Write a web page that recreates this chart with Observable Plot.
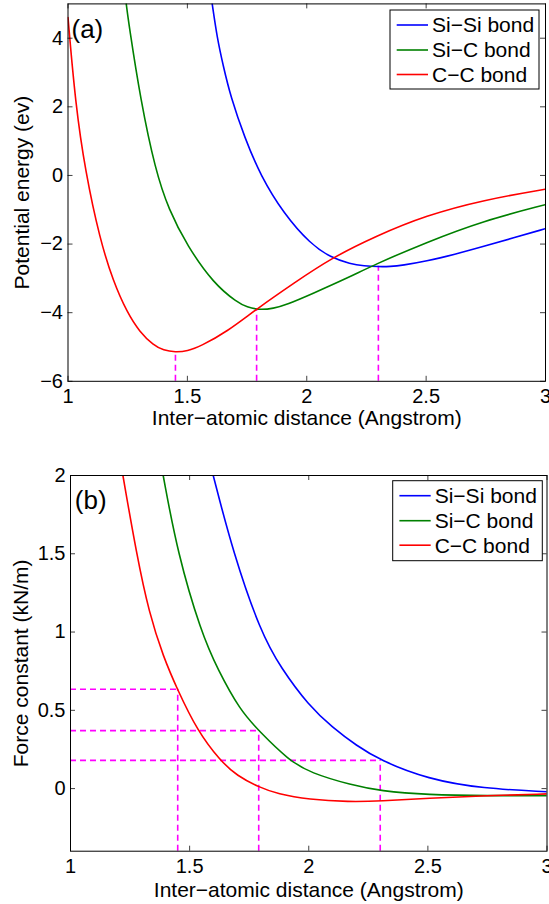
<!DOCTYPE html>
<html><head><meta charset="utf-8">
<script src="https://cdn.jsdelivr.net/npm/d3@7"></script>
<script src="https://cdn.jsdelivr.net/npm/@observablehq/plot@0.6"></script>
<style>body{margin:0;background:#fff} #chart{width:549px;height:904px;line-height:0}</style>
</head><body><div id="chart"></div>
<script>
// ---------- data ----------
const seriesNames = ["Si\u2212Si bond", "Si\u2212C bond", "C\u2212C bond"];
const seriesColors = ["#0000ff", "#008000", "#ff0000"];

// (a) potential energy (eV) vs distance (Angstrom)
const potSiSiX = [1.604, 1.625, 1.65, 1.681, 1.74, 1.806, 1.904, 2.016, 2.10, 2.183, 2.24, 2.30, 2.35, 2.40, 2.50, 2.62, 2.74, 2.87, 3.00];
const potSiSiY = [5.0, 4.0, 3.2, 2.3, 1.1, 0.0, -1.12, -2.0, -2.39, -2.58, -2.635, -2.66, -2.655, -2.62, -2.50, -2.30, -2.07, -1.81, -1.55];
const potSiCX = [1.244, 1.255, 1.304, 1.366, 1.422, 1.499, 1.611, 1.709, 1.75, 1.80, 1.86, 1.918, 2.016, 2.183, 2.274, 2.50, 2.74, 3.00];
const potSiCY = [5.0, 4.4, 2.2, 0.15, -1.0, -2.05, -3.16, -3.70, -3.84, -3.92, -3.88, -3.76, -3.47, -2.95, -2.63, -1.95, -1.32, -0.85];
const potCCX = [1.00, 1.031, 1.073, 1.133, 1.19, 1.248, 1.30, 1.358, 1.40, 1.45, 1.50, 1.555, 1.667, 1.79, 1.95, 2.10, 2.295, 2.497, 2.742, 3.00];
const potCCY = [4.6, 2.1, 0.1, -1.85, -3.1, -4.0, -4.56, -4.95, -5.10, -5.15, -5.12, -4.98, -4.55, -3.89, -3.12, -2.42, -1.75, -1.17, -0.71, -0.40];

// (b) force constant (kN/m) vs distance (Angstrom)
const forceSiSiX = [1.599, 1.684, 1.798, 1.883, 2.00, 2.10, 2.20, 2.30, 2.50, 2.73, 3.00];
const forceSiSiY = [2.0, 1.5, 1.0, 0.77, 0.53, 0.39, 0.275, 0.18, 0.06, 0.0, -0.02];
const forceSiCX = [1.389, 1.45, 1.548, 1.618, 1.712, 1.79, 1.917, 2.007, 2.18, 2.30, 2.50, 2.75, 3.00];
const forceSiCY = [2.0, 1.5, 1.0, 0.76, 0.5, 0.37, 0.18, 0.10, 0.022, -0.015, -0.04, -0.046, -0.045];
const forceCCX = [1.22, 1.277, 1.33, 1.39, 1.448, 1.532, 1.627, 1.70, 1.79, 1.87, 2.00, 2.17, 2.30, 2.50, 2.75, 3.00];
const forceCCY = [2.0, 1.5, 1.12, 0.84, 0.635, 0.37, 0.18, 0.08, 0.01, -0.035, -0.07, -0.085, -0.08, -0.062, -0.045, -0.034];

// equilibrium markers: C-C, Si-C, Si-Si
const eqDist = [1.45, 1.79, 2.30];
const eqEnergy = [-5.15, -3.89, -2.65];
const eqForce = [0.635, 0.37, 0.18];

// ticks
const xTicks = [1, 1.5, 2, 2.5, 3];
const xTickLabels = ["1", "1.5", "2", "2.5", "3"];
const potYTicks = [-6, -4, -2, 0, 2, 4];
const potYTickLabels = ["\u22126", "\u22124", "\u22122", "0", "2", "4"];
const forceYTicks = [0, 0.5, 1, 1.5, 2];
const forceYTickLabels = ["0", "0.5", "1", "1.5", "2"];

const xTitle = "Inter\u2212atomic distance (Angstrom)";
const potTitle = "Potential energy (ev)";
const forceTitle = "Force constant (kN/m)";

// ---------- drawing ----------
const FONT = "'Liberation Sans', Arial, Helvetica, sans-serif";
const eqRows = eqDist.map((d, i) => ({d, e: eqEnergy[i], f: eqForce[i]}));

function rowsOf(xs, ys, name) { return xs.map((x, i) => ({x, y: ys[i], name})); }

function makePanel(cfg) {
  const plotW = cfg.width - cfg.marginLeft - cfg.marginRight;
  const plotH = cfg.height - cfg.marginTop - cfg.marginBottom;
  const tickStyle = {stroke: "black", strokeWidth: 0.75};
  const fmt = (ticks, labels) => d => labels[ticks.indexOf(d)];
  const marks = [
    ...cfg.guides,
    ...cfg.series.map((s, i) => Plot.line(s, {x: "x", y: "y", stroke: seriesColors[i], strokeWidth: 1.6, curve: "basis", clip: true})),
    Plot.tickX(xTicks, {x: d => d, insetTop: plotH - 5, ...tickStyle}),
    Plot.tickX(xTicks, {x: d => d, insetBottom: plotH - 5, ...tickStyle}),
    Plot.tickY(cfg.yTicks, {y: d => d, insetRight: plotW - 5, ...tickStyle}),
    Plot.tickY(cfg.yTicks, {y: d => d, insetLeft: plotW - 5, ...tickStyle}),
    Plot.frame({stroke: "black", strokeWidth: 1}),
    Plot.axisX({ticks: xTicks, tickFormat: fmt(xTicks, xTickLabels), tickSize: 0, tickPadding: cfg.xPad, fontSize: 20}),
    Plot.axisY({ticks: cfg.yTicks, tickFormat: fmt(cfg.yTicks, cfg.yTickLabels), tickSize: 0, tickPadding: 5, fontSize: 20}),
    Plot.text([xTitle], {text: d => d, frameAnchor: "bottom", dy: cfg.xTitleDy, textAnchor: "middle", lineAnchor: "top", fontSize: 21}),
    Plot.text([cfg.yTitle], {text: d => d, frameAnchor: "left", dx: cfg.yTitleDx, rotate: -90, textAnchor: "middle", lineAnchor: "middle", fontSize: 21}),
    Plot.text([cfg.letter], {text: d => d, frameAnchor: "top-left", dx: cfg.letterDx, dy: cfg.letterDy, textAnchor: "start", lineAnchor: "top", fontSize: 26})
  ];
  const svg = Plot.plot({
    width: cfg.width, height: cfg.height,
    marginTop: cfg.marginTop, marginBottom: cfg.marginBottom, marginLeft: cfg.marginLeft, marginRight: cfg.marginRight,
    x: {domain: [1, 3]},
    y: {domain: cfg.yDomain},
    style: {fontFamily: FONT, fontSize: "20px", background: "white", color: "black", overflow: "visible"},
    marks
  });
  // legend box (top-right inside the axes)
  const L = cfg.legend;
  const bx = cfg.width - cfg.marginRight - L.rightGap - L.w;
  const by = cfg.marginTop + L.topGap;
  const g = d3.select(svg).append("g").attr("text-anchor", "start");
  g.append("rect").attr("x", bx).attr("y", by).attr("width", L.w).attr("height", L.h)
    .attr("fill", "white").attr("stroke", "black").attr("stroke-width", 1);
  seriesNames.forEach((n, i) => {
    const y = by + L.rowY[i];
    g.append("line").attr("x1", bx + 6.7).attr("x2", bx + 38).attr("y1", y).attr("y2", y)
      .attr("stroke", seriesColors[i]).attr("stroke-width", 1.6);
    g.append("text").attr("x", bx + 42).attr("y", y).attr("dy", "0.35em").attr("text-anchor", "start")
      .attr("font-family", FONT).attr("font-size", 21).attr("fill", "black").text(n);
  });
  return svg;
}

const panelA = makePanel({
  width: 549, height: 452, marginTop: 3.4, marginBottom: 71.2, marginLeft: 67.5, marginRight: 4,
  yDomain: [-6, 5], yTicks: potYTicks, yTickLabels: potYTickLabels,
  series: [rowsOf(potSiSiX, potSiSiY, seriesNames[0]), rowsOf(potSiCX, potSiCY, seriesNames[1]), rowsOf(potCCX, potCCY, seriesNames[2])],
  guides: [Plot.ruleX(eqRows, {x: "d", y1: -6, y2: "e", stroke: "#ff00ff", strokeWidth: 1.6, strokeDasharray: "6,4"})],
  xPad: 7, xTitleDy: 28.5, yTitle: potTitle, yTitleDx: -46,
  letter: "(a)", letterDx: 3.5, letterDy: 15.4,
  legend: {w: 149, h: 79, rightGap: 6, topGap: 6.6, rowY: [15, 40, 64.5]}
});
const panelB = makePanel({
  width: 549, height: 452, marginTop: 23, marginBottom: 53.3, marginLeft: 70, marginRight: 2.5,
  yDomain: [-0.4, 2], yTicks: forceYTicks, yTickLabels: forceYTickLabels,
  series: [rowsOf(forceSiSiX, forceSiSiY, seriesNames[0]), rowsOf(forceSiCX, forceSiCY, seriesNames[1]), rowsOf(forceCCX, forceCCY, seriesNames[2])],
  guides: [
    Plot.ruleX(eqRows, {x: "d", y1: -0.4, y2: "f", stroke: "#ff00ff", strokeWidth: 1.6, strokeDasharray: "6,4"}),
    Plot.ruleY(eqRows, {y: "f", x1: 1, x2: "d", stroke: "#ff00ff", strokeWidth: 1.6, strokeDasharray: "6,4"})
  ],
  xPad: 8, xTitleDy: 31, yTitle: forceTitle, yTitleDx: -49,
  letter: "(b)", letterDx: 4.3, letterDy: 15.5,
  legend: {w: 149.6, h: 80, rightGap: 4.2, topGap: 5.7, rowY: [15, 40, 64.5]}
});
const host = document.getElementById("chart");
host.appendChild(panelA);
host.appendChild(panelB);
</script>
</body></html>
